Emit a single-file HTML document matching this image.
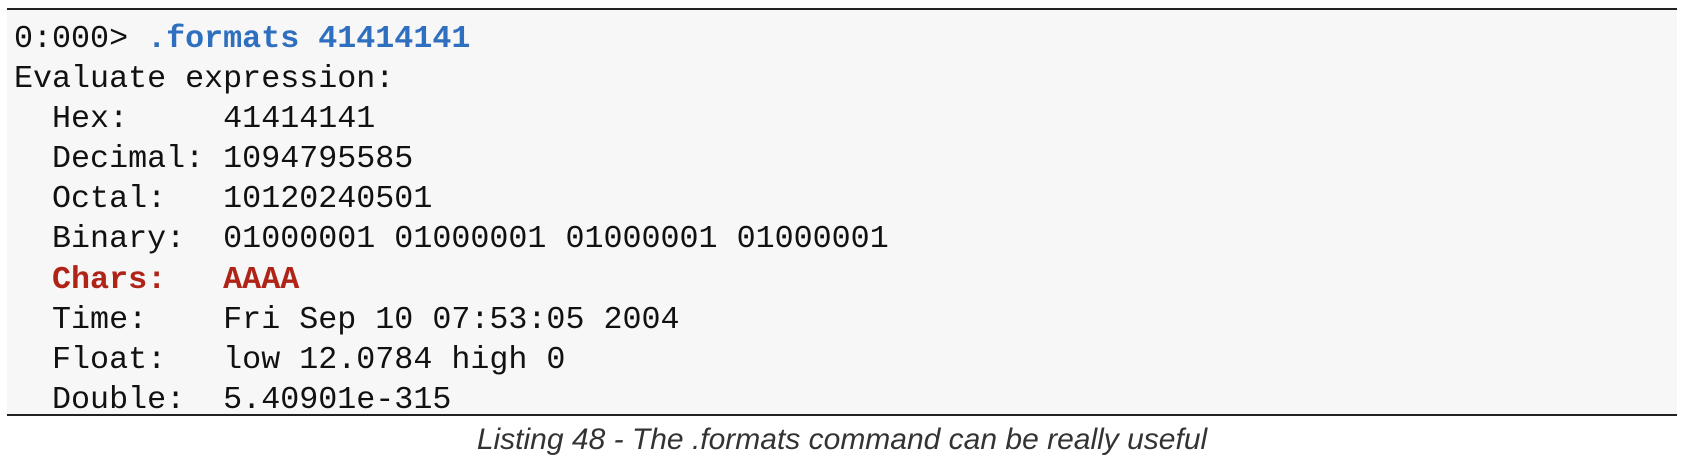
<!DOCTYPE html>
<html><head><meta charset="utf-8"><style>
html,body{margin:0;padding:0;background:#fff;width:1684px;height:460px;overflow:hidden}
.box{position:absolute;left:7px;top:8px;width:1670px;height:404px;background:#f7f7f7;border-top:2px solid #222;border-bottom:2px solid #222}
pre{margin:0;position:absolute;left:7px;top:9px;font-family:"Liberation Mono",monospace;font-size:31.7px;line-height:40.1px;color:#111}
.b{color:#2f6fbf;font-weight:bold}
.r{color:#b02418;font-weight:bold}
.cap{position:absolute;left:0;width:1684px;top:423px;text-align:center;font-family:"Liberation Sans",sans-serif;font-style:italic;font-size:30px;color:#333}
</style></head><body>
<div class="box"><pre>0:000&gt; <span class="b">.formats 41414141</span>
Evaluate expression:
  Hex:     41414141
  Decimal: 1094795585
  Octal:   10120240501
  Binary:  01000001 01000001 01000001 01000001
  <span class="r">Chars:   AAAA</span>
  Time:    Fri Sep 10 07:53:05 2004
  Float:   low 12.0784 high 0
  Double:  5.40901e-315</pre></div>
<div class="cap">Listing 48 - The .formats command can be really useful</div>
</body></html>
